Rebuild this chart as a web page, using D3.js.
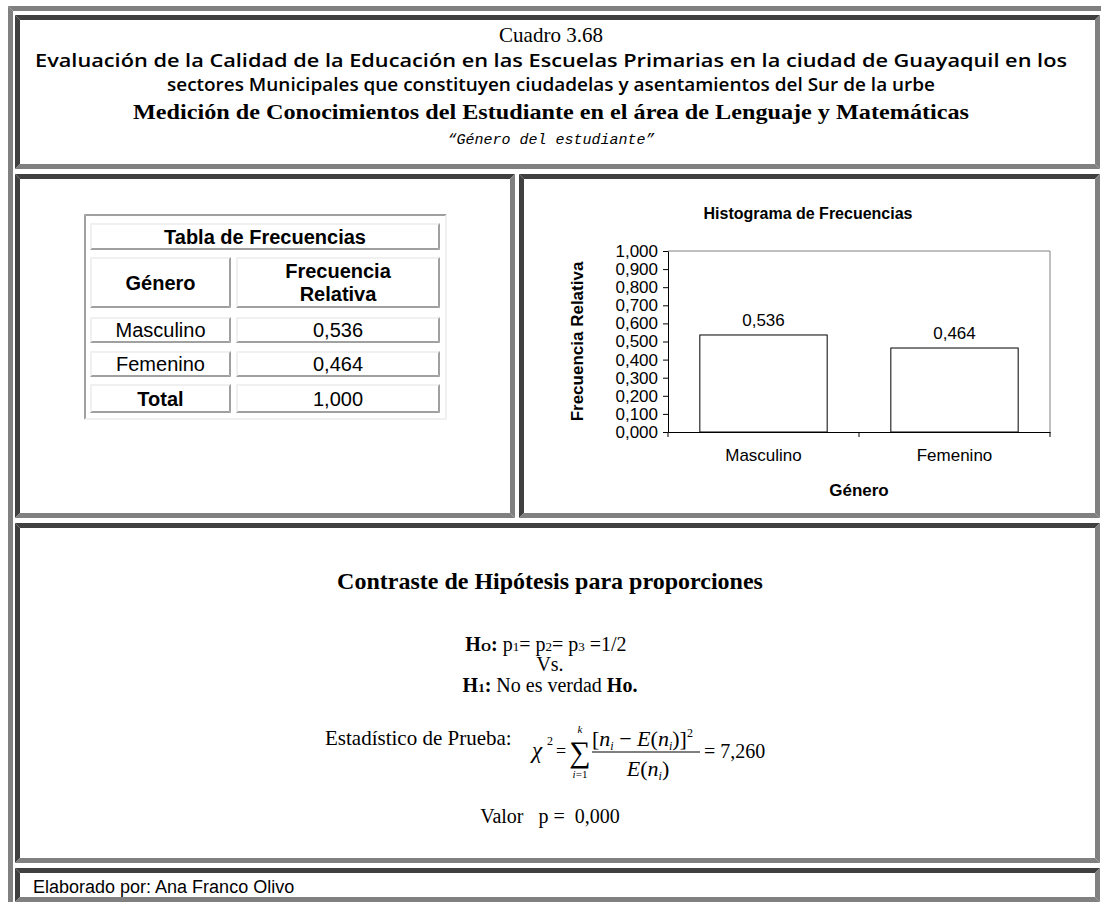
<!DOCTYPE html>
<html>
<head>
<meta charset="utf-8">
<script src="https://cdnjs.cloudflare.com/ajax/libs/d3/7.8.5/d3.min.js"></script>
<style>
  body { margin: 0; background: #fff; }
  svg { display: block; }
  text { white-space: pre; }
</style>
</head>
<body>
<script>
// data
const categories = ["Masculino", "Femenino"];
const relFreq = [0.536, 0.464];
const totalFreq = 1.0;
const yTickValues = [0, 0.1, 0.2, 0.3, 0.4, 0.5, 0.6, 0.7, 0.8, 0.9, 1.0];
const titleLines = [
  "Cuadro 3.68",
  "Evaluación de la Calidad de la Educación en las Escuelas Primarias en la ciudad de Guayaquil en los",
  "sectores Municipales que constituyen ciudadelas y asentamientos del Sur de la urbe",
  "Medición de Conocimientos del Estudiante en el área de Lenguaje y Matemáticas",
  "\u201CGénero del estudiante\u201D"
];
const chiSquare = 7.26;
const pValue = 0.0;
const author = "Elaborado por: Ana Franco Olivo";

const fmt = d3.formatLocale({decimal: ",", thousands: ".", grouping: [3], currency: ["$", ""]}).format(".3f");

const sans = "'Liberation Sans', Arial, sans-serif";
const serif = "'Liberation Serif', 'Times New Roman', serif";

const svg = d3.select("body").append("svg")
    .attr("width", 1101)
    .attr("height", 902);

// beveled borders like the old html table
function bevel(x, y, w, h, t, tl, br) {
  const x2 = x + w, y2 = y + h;
  const g = svg.append("g");
  g.append("polygon").attr("points", [[x, y], [x2, y], [x2 - t, y + t], [x + t, y + t]].join(" ")).attr("fill", tl);
  g.append("polygon").attr("points", [[x, y], [x + t, y + t], [x + t, y2 - t], [x, y2]].join(" ")).attr("fill", tl);
  g.append("polygon").attr("points", [[x, y2], [x + t, y2 - t], [x2 - t, y2 - t], [x2, y2]].join(" ")).attr("fill", br);
  g.append("polygon").attr("points", [[x2, y], [x2, y2], [x2 - t, y2 - t], [x2 - t, y + t]].join(" ")).attr("fill", br);
}

bevel(8, 6, 1110, 910, 5, "#808080", "#404040");
bevel(15, 15, 1085, 154, 5, "#404040", "#808080");   // header
bevel(15, 174, 500, 344, 5, "#404040", "#808080");   // table cell
bevel(519, 174, 581, 344, 5, "#404040", "#808080");  // chart cell
bevel(15, 523, 1085, 340, 5, "#404040", "#808080");  // test cell
bevel(15, 868, 1085, 34, 5, "#404040", "#808080");   // footer

// ---- header
const hdr = [
  {font: serif, size: 21, weight: "normal", style: "normal", y: 42, len: null},
  {font: "'Open Sans', sans-serif", size: 18, weight: 600, style: "normal", y: 67, len: 1032},
  {font: "'Open Sans', sans-serif", size: 18, weight: 600, style: "normal", y: 91, len: 768},
  {font: serif, size: 22, weight: "bold", style: "normal", y: 119, len: 836},
  {font: "'Liberation Mono', 'Courier New', monospace", size: 15, weight: "normal", style: "italic", y: 144, len: null}
];
svg.append("g").selectAll("text")
  .data(titleLines)
  .join("text")
    .attr("x", 551)
    .attr("y", (d, i) => hdr[i].y)
    .attr("text-anchor", "middle")
    .attr("font-family", (d, i) => hdr[i].font)
    .attr("font-size", (d, i) => hdr[i].size)
    .attr("font-weight", (d, i) => hdr[i].weight)
    .attr("font-style", (d, i) => hdr[i].style)
    .each(function(d, i) {
      if (hdr[i].len) d3.select(this).attr("textLength", hdr[i].len).attr("lengthAdjust", "spacingAndGlyphs");
    })
    .text(d => d);

// ---- frequency table
bevel(84, 214, 363, 206, 2, "#a0a0a0", "#f0f0f0");
const tableRows = [["Género", "Frecuencia\nRelativa"]]
  .concat(categories.map((c, i) => [c, fmt(relFreq[i])]))
  .concat([["Total", fmt(totalFreq)]]);
const rowTop = [257, 317, 351, 384];
const rowH = [51, 26, 26, 29];
const colX = [90, 236], colW = [141, 204];

bevel(90, 223, 350, 27, 2, "#f0f0f0", "#a0a0a0");
svg.append("text")
  .attr("x", 265).attr("y", 244)
  .attr("text-anchor", "middle")
  .attr("font-family", sans).attr("font-size", 20).attr("font-weight", "bold")
  .text("Tabla de Frecuencias");

tableRows.forEach((row, r) => {
  row.forEach((cell, c) => {
    bevel(colX[c], rowTop[r], colW[c], rowH[r], 2, "#f0f0f0", "#a0a0a0");
    const bold = r === 0 || (r === tableRows.length - 1 && c === 0);
    const lines = cell.split("\n");
    const t = svg.append("text")
      .attr("text-anchor", "middle")
      .attr("font-family", sans).attr("font-size", 20)
      .attr("font-weight", bold ? "bold" : "normal");
    const cy = rowTop[r] + rowH[r] / 2;
    lines.forEach((ln, k) => {
      t.append("tspan")
        .attr("x", colX[c] + colW[c] / 2)
        .attr("y", cy + 7 + (k - (lines.length - 1) / 2) * 23)
        .text(ln);
    });
  });
});

// ---- histogram
const plot = {left: 668, right: 1050, top: 251, bottom: 432};
const x = d3.scaleBand().domain(categories).range([plot.left, plot.right]).paddingInner(1 / 3).paddingOuter(1 / 6);
const y = d3.scaleLinear().domain([0, 1]).range([plot.bottom, plot.top]);

svg.append("text")
  .attr("x", 808).attr("y", 219)
  .attr("text-anchor", "middle")
  .attr("font-family", sans).attr("font-size", 16).attr("font-weight", "bold")
  .text("Histograma de Frecuencias");

svg.append("path")
  .attr("d", `M${plot.left},${plot.top}H${plot.right}V${plot.bottom}`)
  .attr("fill", "none").attr("stroke", "#808080");

svg.selectAll(".bar")
  .data(relFreq)
  .join("rect")
    .attr("class", "bar")
    .attr("x", (d, i) => x(categories[i]))
    .attr("y", d => y(d))
    .attr("width", x.bandwidth())
    .attr("height", d => y(0) - y(d))
    .attr("fill", "#fff").attr("stroke", "#000");

svg.selectAll(".val")
  .data(relFreq)
  .join("text")
    .attr("class", "val")
    .attr("x", (d, i) => x(categories[i]) + x.bandwidth() / 2)
    .attr("y", d => y(d) - 9)
    .attr("text-anchor", "middle")
    .attr("font-family", sans).attr("font-size", 17)
    .text(d => fmt(d));

const yAxis = svg.append("g")
  .attr("transform", `translate(${plot.left},0)`)
  .call(d3.axisLeft(y).tickValues(yTickValues).tickFormat(fmt).tickSize(5).tickSizeOuter(0).tickPadding(5));
yAxis.attr("font-family", sans).attr("font-size", 17);
yAxis.selectAll("text").attr("fill", "#000");

const xAxis = svg.append("g")
  .attr("transform", `translate(0,${plot.bottom})`)
  .call(d3.axisBottom(x).tickSize(0).tickSizeOuter(0).tickPadding(17));
xAxis.attr("font-family", sans).attr("font-size", 17);
xAxis.selectAll("text").attr("fill", "#000");

// category boundary ticks
const bounds = [plot.left].concat(categories.slice(1).map(c => x(c) - x.step() * x.paddingInner() / 2)).concat([plot.right]);
svg.selectAll(".btick")
  .data(bounds)
  .join("line")
    .attr("class", "btick")
    .attr("x1", d => d).attr("x2", d => d)
    .attr("y1", plot.bottom).attr("y2", plot.bottom + 5)
    .attr("stroke", "#000");

svg.append("text")
  .attr("transform", `translate(583,${(plot.top + plot.bottom) / 2}) rotate(-90)`)
  .attr("text-anchor", "middle")
  .attr("font-family", sans).attr("font-size", 17).attr("font-weight", "bold")
  .text("Frecuencia Relativa");

svg.append("text")
  .attr("x", (plot.left + plot.right) / 2).attr("y", 496)
  .attr("text-anchor", "middle")
  .attr("font-family", sans).attr("font-size", 17).attr("font-weight", "bold")
  .text("Género");

// ---- hypothesis test
const tx = svg.append("g").attr("font-family", serif).attr("fill", "#000");

tx.append("text")
  .attr("x", 550).attr("y", 589)
  .attr("text-anchor", "middle")
  .attr("font-size", 24).attr("font-weight", "bold")
  .text("Contraste de Hipótesis para proporciones");

function rich(x0, y0, parts, size, anchor) {
  const t = tx.append("text").attr("x", x0).attr("y", y0).attr("font-size", size).attr("text-anchor", anchor || "middle");
  parts.forEach(p => {
    const s = t.append("tspan").text(p.t);
    if (p.b) s.attr("font-weight", "bold");
    if (p.i) s.attr("font-style", "italic");
    if (p.s) s.attr("font-size", p.s);
    if (p.dy) s.attr("dy", p.dy);
  });
  return t;
}

rich(546, 651, [
  {t: "H", b: 1}, {t: "O", b: 1, s: 13}, {t: ":", b: 1},
  {t: " p"}, {t: "1", s: 13}, {t: "= p"}, {t: "2", s: 13},
  {t: "= p"}, {t: "3", s: 13}, {t: " =1/2"}
], 20);
rich(550, 671, [{t: "Vs."}], 20);
rich(550, 692, [
  {t: "H", b: 1}, {t: "1", b: 1, s: 13}, {t: ":", b: 1},
  {t: " No es verdad "}, {t: "Ho.", b: 1}
], 20);

rich(325, 745, [{t: "Estadístico de Prueba:"}], 21, "start");

// formula
rich(532, 758, [{t: "\u03C7", i: 1}], 23, "start");
rich(547, 745, [{t: "2"}], 12, "start");
rich(556, 757, [{t: "="}], 18, "start");
rich(580, 762, [{t: "\u2211"}], 30, "middle");
rich(580, 733, [{t: "k", i: 1}], 11, "middle");
rich(580, 778, [{t: "i", i: 1}, {t: "=1"}], 11, "middle");
rich(592, 746, [
  {t: "["}, {t: "n", i: 1}, {t: "i", i: 1, s: 12, dy: 4}, {t: " \u2212 ", dy: -4},
  {t: "E", i: 1}, {t: "("}, {t: "n", i: 1}, {t: "i", i: 1, s: 12, dy: 4}, {t: ")]", dy: -4},
  {t: "2", s: 12, dy: -9}
], 22, "start");
tx.append("line").attr("x1", 592).attr("x2", 700).attr("y1", 752).attr("y2", 752).attr("stroke", "#000").attr("stroke-width", 1);
rich(648, 776, [
  {t: "E", i: 1}, {t: "("}, {t: "n", i: 1}, {t: "i", i: 1, s: 12, dy: 4}, {t: ")", dy: -4}
], 22, "middle");
rich(704, 758, [{t: "= " + fmt(chiSquare)}], 20, "start");

rich(550, 823, [{t: "Valor   p =  " + fmt(pValue)}], 20, "middle");

// ---- footer
svg.append("text")
  .attr("x", 33).attr("y", 893)
  .attr("font-family", sans).attr("font-size", 18)
  .text(author);
</script>
</body>
</html>
